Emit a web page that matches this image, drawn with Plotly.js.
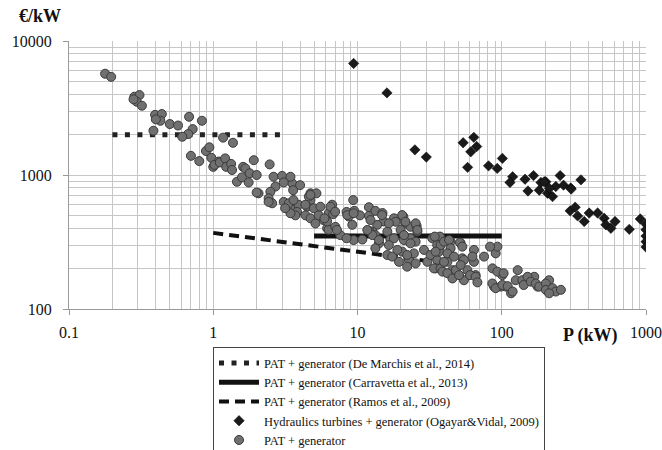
<!DOCTYPE html>
<html>
<head>
<meta charset="utf-8">
<script src="https://cdn.plot.ly/plotly-3.0.1.min.js"></script>
<style>html,body{margin:0;padding:0;background:#fff;}#chart{width:662px;height:450px;}</style>
</head>
<body>
<div id="chart"></div>
<script>
// ---- Data ----
const deMarchisX = [0.2, 3];
const deMarchisY = [2000, 2000];
const carravettaX = [5, 100];
const carravettaY = [350, 350];
const ramosX = [1, 40];
const ramosY = [370, 220];

const turbineX = [9.4, 16, 25, 30, 54, 64, 67, 61, 58, 81, 93, 101, 119, 114, 145, 166, 152, 187, 202, 182, 208, 225, 237, 254, 268, 301, 354, 298, 323, 336, 373, 404, 462, 513, 527, 571, 610, 766, 913, 1000, 1000, 1000, 1000, 1000, 197, 214, 303];
const turbineY = [6800, 4100, 1540, 1360, 1740, 1910, 1630, 1490, 1140, 1170, 1120, 1330, 970, 880, 930, 990, 760, 880, 890, 770, 730, 690, 820, 990, 840, 800, 920, 540, 575, 495, 450, 520, 520, 475, 425, 400, 450, 393, 470, 430, 390, 350, 318, 290, 890, 795, 785];

const patX = [0.178, 0.196, 0.284, 0.308, 0.295, 0.32, 0.28, 0.395, 0.44, 0.43, 0.40, 0.50, 0.57, 0.385, 0.68, 0.835, 0.72, 0.67, 0.61, 0.70, 0.80, 0.89, 0.94, 0.97, 1.0, 1.09, 1.17, 1.37,
  1.02, 1.11, 1.21, 1.23, 1.33, 1.35, 1.61, 1.67, 1.91, 2.46, 1.46, 1.58, 1.79, 1.76, 2.0, 2.06, 2.62, 3.0, 2.70, 2.49, 2.42, 2.56, 3.08, 3.52, 3.58, 4.0, 3.43, 3.34, 3.91, 3.81, 3.71, 4.72, 5.19, 4.72, 4.48, 4.36, 4.98, 5.53, 4.72, 5.11, 5.84, 6.32, 6.16, 5.38,
  2.0, 2.42, 3.08, 3.43, 4.6, 3.43, 3.6, 3.15, 6.3,
  6.67, 6.78, 6.16, 5.9, 7.03, 7.6, 8.4, 8.7, 9.2, 9.34, 9.5, 10.4, 9.4, 8.4, 10.8, 12, 12, 13.3, 14.9, 15.2, 13.7, 12.7, 12, 13.3, 14.1, 13.3, 16.1, 16.9, 17.9, 18.4, 20.8, 21.5, 19.9, 23.3, 25.7, 26, 23.3, 21, 25.3, 16.1, 17.4, 20.4, 19.4, 22.7, 22.1, 25.3, 24.6, 28.9, 30.5, 32.1, 35.7, 34.8, 36.7, 37.3,
  4.35, 4.72, 6.5, 7.0, 7.2, 8.5, 9.4, 14.8, 12.3, 16.5, 12.7, 14.1, 11.7, 17.9, 16.5, 20.4, 21.5, 25.3, 26, 21, 18.9, 22.1, 23.3, 33, 36.7, 35.7, 33.9, 37.7, 42, 44.2, 45.5, 51.9, 53.3, 54.7, 57.8, 64.2, 64.2, 65.9, 75.4, 90.8, 93.3, 86.2, 88.4, 98.4, 101, 107, 116, 129, 125, 139, 155, 168, 177, 197, 213,
  34.3, 37.7, 34.8, 39.8, 43.1, 44.2, 42, 39.8, 38.8, 42, 45.5, 48, 46.7, 51.3, 53.3, 54.7, 51.9, 50.6, 62.6, 60.2, 65.9, 67.8, 83, 93.3, 103, 86, 90.8, 101, 110, 119, 142, 151, 159, 172, 182, 202, 202, 225, 237, 257, 213];
const patY = [5700, 5400, 3840, 3950, 3520, 3290, 3670, 2810, 2850, 2540, 2600, 2400, 2340, 2140, 2720, 2540, 2200, 2020, 1930, 1390, 1270, 1510, 1610, 1345, 1150, 1260, 1900, 1740,
  1190, 1240, 1330, 1150, 1210, 1090, 1150, 1120, 1290, 1200, 890, 960, 1030, 880, 1000, 730, 970, 985, 820, 750, 670, 615, 630, 870, 770, 840, 565, 615, 600, 530, 500, 730, 730, 650, 580, 500, 565, 580, 475, 435, 460, 520, 400, 500,
  740, 630, 880, 970, 690, 518, 650, 565, 390,
  600, 510, 450, 475, 410, 356, 530, 490, 425, 650, 540, 500, 327, 337, 330, 575, 495, 540, 520, 450, 425, 378, 384, 356, 309, 284, 378, 331, 475, 448, 488, 436, 389, 411, 416, 378, 337, 327, 318, 253, 246, 268, 225, 232, 207, 219, 260, 276, 225, 253, 232, 201, 284, 347,
  600, 710, 580, 532, 389, 502, 518, 502, 461, 436, 356, 327, 389, 337, 300, 502, 448, 436, 389, 356, 276, 253, 309, 337, 268, 300, 201, 201, 225, 318, 195, 309, 239, 164, 195, 276, 225, 179, 246, 260, 292, 201, 147, 147, 179, 147, 131, 195, 164, 164, 164, 174, 147, 147, 164,
  347, 300, 268, 318, 327, 284, 260, 225, 190, 185, 169, 195, 246, 313, 292, 232, 213, 179, 246, 179, 174, 158, 292, 190, 185, 155, 143, 151, 148, 135, 151, 174, 160, 155, 147, 155, 139, 143, 135, 139, 131];

const xTickVals = [0.1, 1, 10, 100, 1000];
const xTickText = ["0.1", "1", "10", "100", "1000"];
const yTickVals = [100, 1000, 10000];
const yTickText = ["100", "1000", "10000"];

const serif = '"Liberation Serif", "Times New Roman", Times, serif';

const traces = [
  {x: deMarchisX, y: deMarchisY, mode: 'lines', type: 'scatter',
   name: 'PAT + generator (De Marchis et al., 2014)',
   line: {color: '#222', width: 5, dash: '5px,7.5px'}},
  {x: carravettaX, y: carravettaY, mode: 'lines', type: 'scatter',
   name: 'PAT + generator (Carravetta et al., 2013)',
   line: {color: '#111', width: 5}},
  {x: ramosX, y: ramosY, mode: 'lines', type: 'scatter',
   name: 'PAT + generator (Ramos et al., 2009)',
   line: {color: '#111', width: 4, dash: '10px,6px'}},
  {x: turbineX, y: turbineY, mode: 'markers', type: 'scatter',
   name: 'Hydraulics turbines + generator (Ogayar&amp;Vidal, 2009)',
   marker: {symbol: 'diamond', size: 8, color: '#1a1a1a', line: {width: 0.5, color: '#000'}}},
  {x: patX, y: patY, mode: 'markers', type: 'scatter',
   name: 'PAT + generator',
   marker: {symbol: 'circle', size: 9, color: '#707070', line: {width: 1, color: '#3a3a3a'}}}
];

const gridCol = '#c6c6c6';
const layout = {
  width: 662, height: 450,
  margin: {l: 69, r: 16, t: 41, b: 141, autoexpand: false},
  paper_bgcolor: '#fff', plot_bgcolor: '#fff',
  font: {family: serif, color: '#111', size: 16},
  showlegend: true,
  xaxis: {
    type: 'log', range: [-1, 3],
    tickmode: 'array', tickvals: xTickVals, ticktext: xTickText,
    showgrid: true, gridcolor: gridCol, gridwidth: 1,
    minor: {dtick: 'D1', showgrid: true, gridcolor: gridCol, gridwidth: 1, ticks: ''},
    showline: true, linecolor: '#999', linewidth: 1,
    ticks: 'outside', ticklen: 5, tickcolor: '#999',
    ticklabelstandoff: 4,
    tickfont: {family: serif, size: 16, color: '#111'},
    zeroline: false, automargin: false
  },
  yaxis: {
    type: 'log', range: [2, 4],
    tickmode: 'array', tickvals: yTickVals, ticktext: yTickText,
    showgrid: true, gridcolor: gridCol, gridwidth: 1,
    minor: {dtick: 'D1', showgrid: true, gridcolor: gridCol, gridwidth: 1, ticks: ''},
    showline: true, linecolor: '#999', linewidth: 1,
    ticks: 'outside', ticklen: 5, tickcolor: '#999',
    ticklabelstandoff: 8,
    tickfont: {family: serif, size: 16, color: '#111'},
    zeroline: false, automargin: false
  },
  legend: {
    x: 0.2496, y: -0.143, xanchor: 'left', yanchor: 'top',
    bgcolor: '#fff', bordercolor: '#444', borderwidth: 1,
    font: {family: serif, size: 12.5, color: '#111'},
    itemwidth: 40,
    tracegroupgap: 0
  },
  annotations: [
    {text: '<b>€/kW</b>', xref: 'paper', yref: 'paper', x: -0.09, y: 1.0, yshift: 25,
     xanchor: 'left', yanchor: 'middle', showarrow: false,
     font: {family: serif, size: 18, color: '#111'}},
    {text: '<b>P (kW)</b>', xref: 'paper', yref: 'paper', x: 0.852, y: 0, yshift: -26,
     xanchor: 'left', yanchor: 'middle', showarrow: false,
     font: {family: serif, size: 18, color: '#111'}}
  ]
};

Plotly.newPlot('chart', traces, layout, {displayModeBar: false, staticPlot: true});
</script>
</body>
</html>
